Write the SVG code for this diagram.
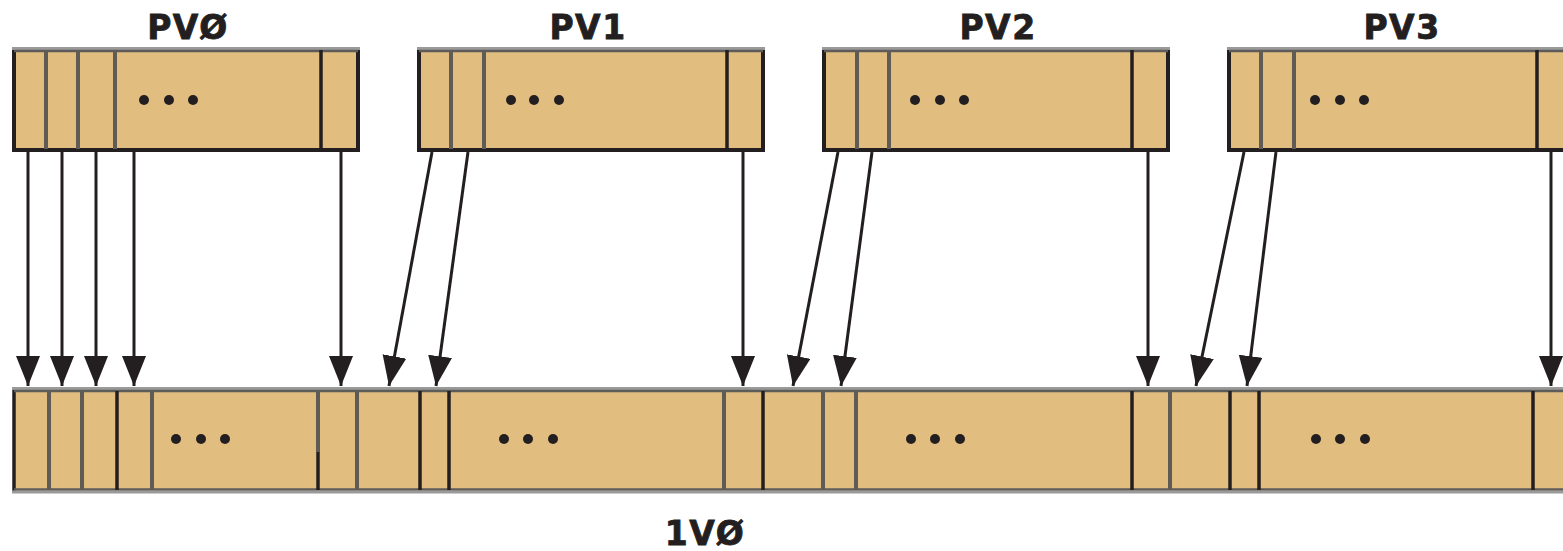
<svg xmlns="http://www.w3.org/2000/svg" width="1563" height="551" viewBox="0 0 1563 551">
<style>
.fill{fill:#E2BD80}
.edge{fill:none;stroke:#231F20;stroke-width:4}
.top1{stroke:#9a9a9a;stroke-width:3}
.top2{stroke:#5e5c5a;stroke-width:2.5}
.dg{stroke:#5f5b55;stroke-width:4}
.dk{stroke:#231F20;stroke-width:3.5}
.dot{fill:#231F20}
.lbl{font-family:"DejaVu Sans",sans-serif;font-weight:bold;font-size:33px;fill:#231F20;stroke:#231F20;stroke-width:0.8;text-anchor:middle;letter-spacing:1.5px}
.conn line{stroke:#231F20;stroke-width:3;marker-end:url(#ah)}
</style>
<defs>
<marker id="ah" markerUnits="userSpaceOnUse" markerWidth="32" markerHeight="26" refX="30" refY="12" orient="auto">
<path d="M0,0 L30,12 L0,24 z" fill="#231F20"/>
</marker>
</defs>
<rect width="1563" height="551" fill="#ffffff"/>

<g id="PV0">
<rect class="fill" x="14" y="49" width="344" height="101"/>
<path class="edge" d="M14,49 V150 H358 V49"/>
<line class="top1" x1="12" y1="48.5" x2="360" y2="48.5"/>
<line class="top2" x1="14" y1="51" x2="358" y2="51"/>
<line class="dg" x1="46" y1="50" x2="46" y2="149"/>
<line class="dg" x1="78" y1="50" x2="78" y2="149"/>
<line class="dg" x1="115" y1="50" x2="115" y2="149"/>
<line class="dk" x1="321" y1="50" x2="321" y2="149"/>
<circle class="dot" cx="144" cy="100" r="5"/><circle class="dot" cx="169" cy="100" r="5"/><circle class="dot" cx="193" cy="100" r="5"/>
<text class="lbl" x="188" y="39">PVØ</text>
</g>

<g id="PV1">
<rect class="fill" x="419" y="49" width="344" height="101"/>
<path class="edge" d="M419,49 V150 H763 V49"/>
<line class="top1" x1="417" y1="48.5" x2="765" y2="48.5"/>
<line class="top2" x1="419" y1="51" x2="763" y2="51"/>
<line class="dg" x1="451" y1="50" x2="451" y2="149"/>
<line class="dg" x1="484" y1="50" x2="484" y2="149"/>
<line class="dk" x1="727" y1="50" x2="727" y2="149"/>
<circle class="dot" cx="511" cy="100" r="5"/><circle class="dot" cx="534" cy="100" r="5"/><circle class="dot" cx="559" cy="100" r="5"/>
<text class="lbl" x="588" y="39">PV1</text>
</g>

<g id="PV2">
<rect class="fill" x="824" y="49" width="344" height="101"/>
<path class="edge" d="M824,49 V150 H1168 V49"/>
<line class="top1" x1="822" y1="48.5" x2="1170" y2="48.5"/>
<line class="top2" x1="824" y1="51" x2="1168" y2="51"/>
<line class="dg" x1="857" y1="50" x2="857" y2="149"/>
<line class="dg" x1="889" y1="50" x2="889" y2="149"/>
<line class="dk" x1="1132" y1="50" x2="1132" y2="149"/>
<circle class="dot" cx="915" cy="100" r="5"/><circle class="dot" cx="940" cy="100" r="5"/><circle class="dot" cx="964" cy="100" r="5"/>
<text class="lbl" x="998" y="39">PV2</text>
</g>

<g id="PV3">
<rect class="fill" x="1229" y="49" width="344" height="101"/>
<path class="edge" d="M1229,49 V150 H1573 V49"/>
<line class="top1" x1="1227" y1="48.5" x2="1575" y2="48.5"/>
<line class="top2" x1="1229" y1="51" x2="1573" y2="51"/>
<line class="dg" x1="1261" y1="50" x2="1261" y2="149"/>
<line class="dg" x1="1294" y1="50" x2="1294" y2="149"/>
<line class="dk" x1="1537" y1="50" x2="1537" y2="149"/>
<circle class="dot" cx="1315" cy="100" r="5"/><circle class="dot" cx="1340" cy="100" r="5"/><circle class="dot" cx="1364" cy="100" r="5"/>
<text class="lbl" x="1402" y="39">PV3</text>
</g>

<g id="LV0">
<rect class="fill" x="14" y="389" width="1560" height="102"/>
<line class="dk" x1="14" y1="389" x2="14" y2="491"/>
<line class="top1" x1="12" y1="388.5" x2="1563" y2="388.5"/>
<line class="top2" x1="14" y1="391" x2="1563" y2="391"/>
<line class="top2" x1="14" y1="489.5" x2="1563" y2="489.5"/>
<line class="top1" x1="12" y1="492" x2="1563" y2="492"/>
<line class="dg" x1="49" y1="391" x2="49" y2="490"/>
<line class="dg" x1="82" y1="391" x2="82" y2="490"/>
<line class="dk" x1="117" y1="391" x2="117" y2="490"/>
<line class="dg" x1="152" y1="391" x2="152" y2="490"/>
<line class="dg" x1="318" y1="391" x2="318" y2="452"/>
<line class="dk" x1="318" y1="452" x2="318" y2="490"/>
<line class="dg" x1="357" y1="391" x2="357" y2="490"/>
<line class="dk" x1="420" y1="391" x2="420" y2="490"/>
<line class="dk" x1="449" y1="391" x2="449" y2="490"/>
<line class="dg" x1="724" y1="391" x2="724" y2="490"/>
<line class="dk" x1="763" y1="391" x2="763" y2="490"/>
<line class="dg" x1="823" y1="391" x2="823" y2="490"/>
<line class="dg" x1="856" y1="391" x2="856" y2="490"/>
<line class="dk" x1="1132" y1="391" x2="1132" y2="490"/>
<line class="dg" x1="1170" y1="391" x2="1170" y2="490"/>
<line class="dk" x1="1230" y1="391" x2="1230" y2="490"/>
<line class="dk" x1="1259" y1="391" x2="1259" y2="490"/>
<line class="dk" x1="1533" y1="391" x2="1533" y2="490"/>
<circle class="dot" cx="176" cy="439" r="5"/><circle class="dot" cx="201" cy="439" r="5"/><circle class="dot" cx="225" cy="439" r="5"/>
<circle class="dot" cx="504" cy="439" r="5"/><circle class="dot" cx="528" cy="439" r="5"/><circle class="dot" cx="553" cy="439" r="5"/>
<circle class="dot" cx="911" cy="439" r="5"/><circle class="dot" cx="935" cy="439" r="5"/><circle class="dot" cx="960" cy="439" r="5"/>
<circle class="dot" cx="1316" cy="439" r="5"/><circle class="dot" cx="1340" cy="439" r="5"/><circle class="dot" cx="1365" cy="439" r="5"/>
<text class="lbl" x="705" y="545">1VØ</text>
</g>

<g id="connectors" class="conn">
<line x1="28" y1="152" x2="28" y2="386"/>
<line x1="62" y1="152" x2="62" y2="386"/>
<line x1="96" y1="152" x2="96" y2="386"/>
<line x1="134" y1="152" x2="134" y2="386"/>
<line x1="341" y1="152" x2="341" y2="386"/>
<line x1="432" y1="152" x2="389" y2="386"/>
<line x1="468" y1="152" x2="436" y2="386"/>
<line x1="743" y1="152" x2="743" y2="386"/>
<line x1="838" y1="152" x2="793" y2="386"/>
<line x1="872" y1="152" x2="841" y2="386"/>
<line x1="1148" y1="152" x2="1148" y2="386"/>
<line x1="1244" y1="152" x2="1196" y2="386"/>
<line x1="1276" y1="152" x2="1247" y2="386"/>
<line x1="1551" y1="152" x2="1551" y2="386"/>
</g>
</svg>
